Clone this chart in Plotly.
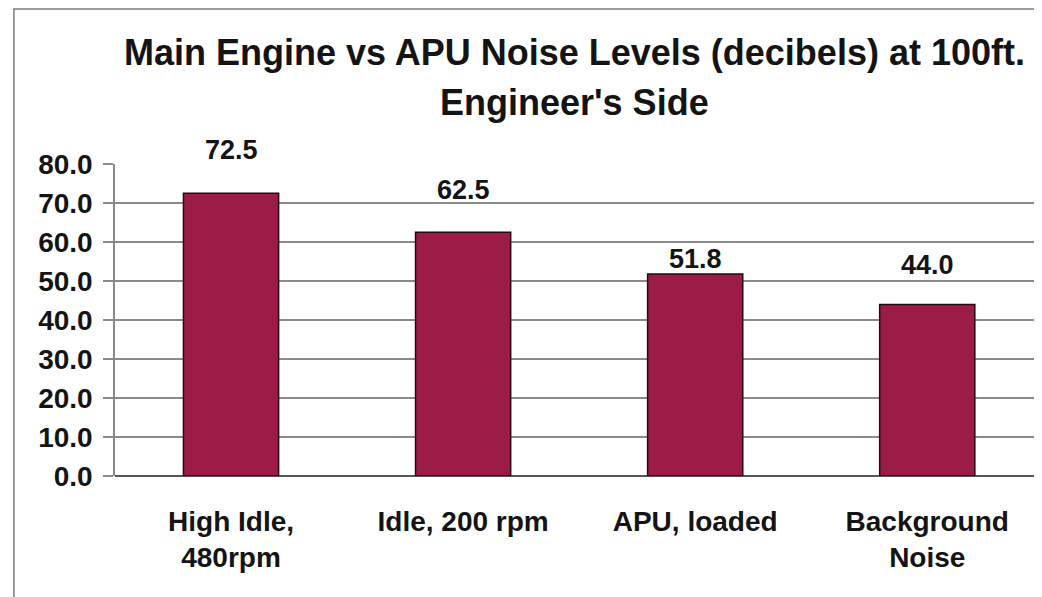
import plotly.graph_objects as go

categories = ["High Idle,<br>480rpm", "Idle, 200 rpm", "APU, loaded", "Background<br>Noise"]
values = [72.5, 62.5, 51.8, 44.0]
value_labels = ["72.5", "62.5", "51.8", "44.0"]
label_shift = [43, 42, 15, 39]  # label offset above each bar (px), as in the reference
tick_vals = [0, 10, 20, 30, 40, 50, 60, 70, 80]
tick_text = ["0.0", "10.0", "20.0", "30.0", "40.0", "50.0", "60.0", "70.0", "80.0"]
title_line1 = "Main Engine vs APU Noise Levels (decibels) at 100ft."
title_line2 = "Engineer's Side"

FONT = "Liberation Sans, Arial, sans-serif"
TXT = "#141414"

fig = go.Figure()
fig.add_trace(go.Bar(
    x=categories, y=values,
    marker=dict(color="#9B1C46", line=dict(color="#2a0610", width=1.5)),
    hoverinfo="skip",
))

for c, v, t, s in zip(categories, values, value_labels, label_shift):
    fig.add_annotation(x=c, y=v, text=f"<b>{t}</b>", showarrow=False,
                       xref="x", yref="y", yanchor="middle", yshift=s,
                       font=dict(family=FONT, size=27, color=TXT))

fig.add_annotation(x=0.5, y=1.357, xref="paper", yref="paper", text=f"<b>{title_line1}</b>",
                   showarrow=False, xanchor="center", yanchor="middle",
                   font=dict(family=FONT, size=36, color=TXT))
fig.add_annotation(x=0.5, y=1.197, xref="paper", yref="paper", text=f"<b>{title_line2}</b>",
                   showarrow=False, xanchor="center", yanchor="middle",
                   font=dict(family=FONT, size=36, color=TXT))

# outer chart frame (left and top edges visible)
fig.add_shape(type="rect", xref="paper", yref="paper",
              x0=-0.11, x1=1.3, y0=-0.8, y1=1.497,
              line=dict(color="#7a7a7a", width=1.5), layer="below")

fig.update_layout(
    width=1026, height=589,
    margin=dict(l=107, r=0, t=156, b=121),
    paper_bgcolor="white", plot_bgcolor="white",
    bargap=0.59, showlegend=False,
    font=dict(family=FONT, color=TXT),
)
fig.update_xaxes(
    range=[-0.5, 3.46],
    showgrid=False, ticks="", showline=False,
    tickfont=dict(family=FONT, size=28, color=TXT),
    ticklabelstandoff=26,
    tickprefix="<b>", ticksuffix="</b>",
)
fig.update_yaxes(
    range=[0, 80], tickvals=tick_vals, ticktext=[f"<b>{t}</b>" for t in tick_text],
    showgrid=True, gridcolor="#8a8a8a", gridwidth=1.5,
    ticks="outside", ticklen=10, tickcolor="#8a8a8a", tickwidth=1.5,
    showline=True, linecolor="#8a8a8a", linewidth=1.5,
    zeroline=True, zerolinecolor="#555555", zerolinewidth=1.5,
    tickfont=dict(family=FONT, size=28, color=TXT),
    ticklabelstandoff=5,
)

fig.write_html("out.html")
